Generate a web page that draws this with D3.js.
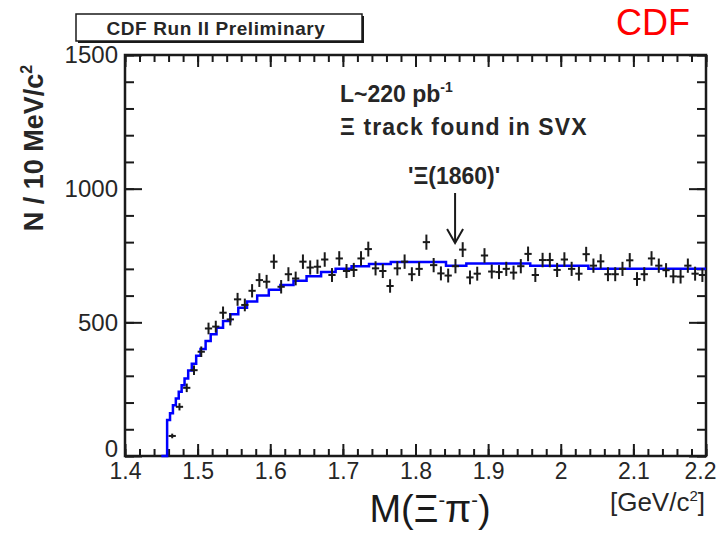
<!DOCTYPE html>
<html>
<head>
<meta charset="utf-8">
<script src="https://cdn.jsdelivr.net/npm/d3@7"></script>
<style>
  html, body { margin: 0; padding: 0; background: #ffffff; }
  svg { display: block; }
  text { font-family: "Liberation Sans", Arial, Helvetica, sans-serif; }
</style>
</head>
<body>
<svg id="chart" width="717" height="533"></svg>
<script>
// Ξ⁻π⁻ invariant mass spectrum, 10 MeV/c² bins starting at 1.46 GeV/c²
const binStart = 1.46;
const binWidth = 0.01;
const counts = [
  75, 184, 255, 321, 390, 477, 484, 536, 511, 586, 565, 618, 658, 652,
  727, 633, 680, 664, 727, 705, 708, 735, 677, 739, 692, 696, 739, 774, 702, 692, 636, 702, 727, 680,
  700, 800, 714, 683, 675, 710, 772, 668, 682, 750, 690, 688, 700, 686, 710, 756, 677, 733, 733, 696,
  735, 700, 682, 755, 712, 728, 680, 680, 700, 732, 662, 680, 739, 712, 695, 672, 671, 712, 682, 677
];

// Background fit, sampled as a step curve
const fitMass = [1.450, 1.458, 1.462, 1.466, 1.470, 1.474, 1.478, 1.482, 1.487, 1.492, 1.498, 1.504,
  1.511, 1.518, 1.526, 1.535, 1.545, 1.556, 1.568, 1.582, 1.598, 1.614, 1.632, 1.650, 1.670, 1.690,
  1.712, 1.736, 1.766, 1.842, 1.870, 1.958, 2.038, 2.200];
const fitValue = [0, 135, 160, 190, 215, 240, 265, 290, 320, 345, 375, 400,
  430, 455, 480, 505, 530, 555, 578, 600, 622, 640, 656, 672, 688, 700,
  710, 718, 726, 712, 720, 712, 700, 700];

// Axis ticks and labels
const xMajorTicks = [1.4, 1.5, 1.6, 1.7, 1.8, 1.9, 2.0, 2.1, 2.2];
const xTickLabels = ["1.4", "1.5", "1.6", "1.7", "1.8", "1.9", "2", "2.1", "2.2"];
const xMinorStep = 0.02;
const yMajorTicks = [0, 500, 1000, 1500];
const yTickLabels = ["0", "500", "1000", "1500"];
const yMinorStep = 100;

const svg = d3.select("#chart");
const frameL = 125, frameR = 706, frameT = 55, frameB = 456;
const ink = "#1a1a1a";

const x = d3.scaleLinear().domain([1.4, 2.2]).range([frameL, frameR]);
const y = d3.scaleLinear().domain([0, 1500]).range([frameB, frameT]);

const xMinor = d3.range(1.4, 2.2 + 1e-9, xMinorStep).map(v => +v.toFixed(3));
const yMinor = d3.range(0, 1500 + 1e-9, yMinorStep);

const data = counts.map((n, i) => ({
  m: binStart + binWidth * (i + 0.5),
  n: n
}));

// Frame ticks (inward on all four sides)
function tickAxis(axis, transform) {
  const g = svg.append("g").attr("transform", transform).call(axis);
  g.select(".domain").remove();
  g.selectAll(".tick line").attr("stroke", ink).attr("stroke-width", 2);
  return g;
}
tickAxis(d3.axisBottom(x).tickValues(xMinor).tickSize(-7).tickFormat(""), `translate(0,${frameB})`);
tickAxis(d3.axisBottom(x).tickValues(xMajorTicks).tickSize(-12).tickFormat(""), `translate(0,${frameB})`);
tickAxis(d3.axisTop(x).tickValues(xMinor).tickSize(-7).tickFormat(""), `translate(0,${frameT})`);
tickAxis(d3.axisTop(x).tickValues(xMajorTicks).tickSize(-12).tickFormat(""), `translate(0,${frameT})`);
tickAxis(d3.axisLeft(y).tickValues(yMinor).tickSize(-9).tickFormat(""), `translate(${frameL},0)`);
tickAxis(d3.axisLeft(y).tickValues(yMajorTicks).tickSize(-17).tickFormat(""), `translate(${frameL},0)`);
tickAxis(d3.axisRight(y).tickValues(yMinor).tickSize(-9).tickFormat(""), `translate(${frameR},0)`);
tickAxis(d3.axisRight(y).tickValues(yMajorTicks).tickSize(-17).tickFormat(""), `translate(${frameR},0)`);

// Tick labels
const xl = d3.axisBottom(x).tickValues(xMajorTicks).tickSize(0).tickPadding(7)
  .tickFormat((d, i) => xTickLabels[i]);
const gx = svg.append("g").attr("transform", `translate(0,${frameB})`).call(xl);
gx.select(".domain").remove();
gx.selectAll("text").attr("font-size", 23).attr("fill", "#262626")
  .attr("font-family", "Liberation Sans, Arial, sans-serif").attr("dy", "0.71em")
  .attr("text-anchor", d => d === 2.2 ? "end" : "middle")
  .attr("x", d => d === 2.2 ? 717 - x(d) - 1 : 0);

const yl = d3.axisLeft(y).tickValues(yMajorTicks).tickSize(0).tickPadding(7)
  .tickFormat((d, i) => yTickLabels[i]);
const gy = svg.append("g").attr("transform", `translate(${frameL},0)`).call(yl);
gy.select(".domain").remove();
gy.selectAll("text").attr("font-size", 24).attr("fill", "#262626")
  .attr("font-family", "Liberation Sans, Arial, sans-serif")
  .attr("dy", d => d === 0 ? "0.02em" : "0.32em");

// Frame
svg.append("rect")
  .attr("x", frameL).attr("y", frameT)
  .attr("width", frameR - frameL).attr("height", frameB - frameT)
  .attr("fill", "none").attr("stroke", ink).attr("stroke-width", 2.5);

// Fit curve
const fitLine = d3.line()
  .x((d, i) => x(fitMass[i]))
  .y((d, i) => y(fitValue[i]))
  .curve(d3.curveStepAfter);
svg.append("path")
  .datum(fitMass)
  .attr("d", fitLine)
  .attr("fill", "none")
  .attr("stroke", "#0000ff")
  .attr("stroke-width", 2.5);

// Data points with error bars
const pts = svg.append("g").attr("stroke", ink).attr("stroke-width", 2);
pts.selectAll("line.h").data(data).join("line").attr("class", "h")
  .attr("x1", d => x(d.m - binWidth / 2)).attr("x2", d => x(d.m + binWidth / 2))
  .attr("y1", d => y(d.n)).attr("y2", d => y(d.n));
pts.selectAll("line.v").data(data).join("line").attr("class", "v")
  .attr("x1", d => x(d.m)).attr("x2", d => x(d.m))
  .attr("y1", d => y(d.n + Math.sqrt(d.n))).attr("y2", d => y(d.n - Math.sqrt(d.n)));

// Axis titles
svg.append("text")
  .attr("transform", `translate(43,148) rotate(-90)`)
  .attr("text-anchor", "middle")
  .attr("font-size", 27).attr("font-weight", "bold").attr("fill", "#262626")
  .html('N / 10 MeV/c<tspan dy="-11" font-size="16">2</tspan>');

svg.append("text")
  .attr("x", 430).attr("y", 522)
  .attr("text-anchor", "middle")
  .attr("font-size", 38).attr("fill", ink)
  .html('M(Ξ<tspan dy="-15" font-size="20">-</tspan><tspan dy="15">π</tspan><tspan dy="-15" font-size="20">-</tspan><tspan dy="15">)</tspan>');

svg.append("text")
  .attr("x", 705).attr("y", 511)
  .attr("text-anchor", "end")
  .attr("font-size", 26).attr("fill", "#262626")
  .html('[GeV/c<tspan dy="-10" font-size="15">2</tspan><tspan dy="10">]</tspan>');

// Header box
svg.append("rect")
  .attr("x", 78).attr("y", 16).attr("width", 286).attr("height", 27)
  .attr("fill", ink);
svg.append("rect")
  .attr("x", 76).attr("y", 14).attr("width", 286).attr("height", 27)
  .attr("fill", "#fff").attr("stroke", ink).attr("stroke-width", 1.5);
svg.append("text")
  .attr("x", 216).attr("y", 35)
  .attr("text-anchor", "middle")
  .attr("font-size", 19).attr("font-weight", "bold").attr("fill", "#262626")
  .attr("letter-spacing", 0.6)
  .text("CDF Run II Preliminary");

svg.append("text")
  .attr("x", 690).attr("y", 35)
  .attr("text-anchor", "end")
  .attr("font-size", 36).attr("fill", "#ff0000")
  .text("CDF");

// Annotations
svg.append("text")
  .attr("x", 340).attr("y", 102)
  .attr("font-size", 23).attr("font-weight", "bold").attr("fill", "#262626")
  .html('L~220 pb<tspan dy="-10" font-size="14">-1</tspan>');
svg.append("text")
  .attr("x", 340).attr("y", 135)
  .attr("font-size", 23).attr("font-weight", "bold").attr("fill", "#262626")
  .attr("letter-spacing", 1.1)
  .text("Ξ track found in SVX");

const peakMass = 1.86;
svg.append("text")
  .attr("x", x(peakMass) - 5).attr("y", 184)
  .attr("text-anchor", "middle")
  .attr("font-size", 23).attr("font-weight", "bold").attr("fill", "#262626")
  .text("'Ξ(1860)'");
const arrow = svg.append("g").attr("stroke", ink).attr("stroke-width", 2).attr("fill", "none");
arrow.append("line")
  .attr("x1", x(peakMass) - 4).attr("x2", x(peakMass) - 4)
  .attr("y1", 193).attr("y2", 243);
arrow.append("path")
  .attr("d", `M${x(peakMass) - 12},229 L${x(peakMass) - 4},243 L${x(peakMass) + 4},229`);
</script>
</body>
</html>
